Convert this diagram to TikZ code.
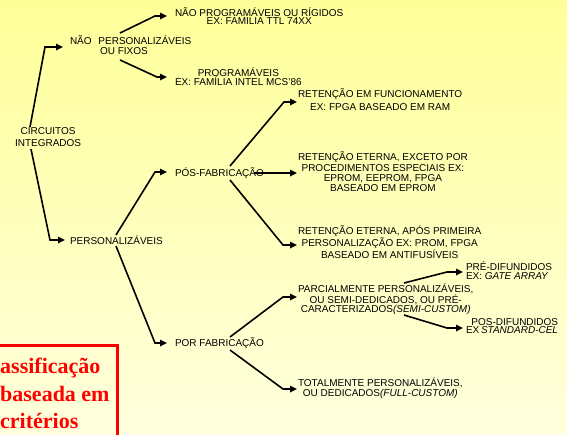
\documentclass[tikz,border=0pt]{standalone}
\usepackage{fontspec}
\setmainfont{Liberation Sans}
\newfontfamily\redserif{Liberation Serif}
\usetikzlibrary{arrows.meta}
\definecolor{bgtop}{RGB}{255,255,153}
\definecolor{bgbot}{RGB}{255,255,222}
\newcommand\fsz[1]{\fontsize{10pt}{#1pt}\selectfont}
\begin{document}
\begin{tikzpicture}[x=1pt,y=-1pt,
  lbl/.style={inner sep=0pt, outer sep=0pt, align=center, anchor=west, text=black, font=\fsz{12}},
  conn/.style={draw=black, line width=1.6pt, -{Triangle[length=7pt,width=6.5pt]}},
]
\useasboundingbox (0,0) rectangle (567,434);
\clip (0,0) rectangle (567,434);
\fill[top color=bgtop, bottom color=bgbot] (0,0) rectangle (567,434);

% nodes
\node[lbl, font=\fsz{12}] (ci) at (15,137) {CIRCUITOS\\INTEGRADOS};
\node[lbl, align=left, font=\fsz{10}] (np) at (70,45) {NÃO\hspace{4pt} PERSONALIZÁVEIS\\\hspace*{30pt}OU FIXOS};
\node[lbl, font=\fsz{8.5}] (npr) at (175,16) {NÃO PROGRAMÁVEIS OU RÍGIDOS\\EX: FAMILIA TTL 74XX};
\node[lbl, font=\fsz{9}] (prog) at (175,77) {PROGRAMÁVEIS\\EX: FAMÍLIA INTEL MCS'86};
\node[lbl] (pers) at (70,240) {PERSONALIZÁVEIS};
\node[lbl] (pos) at (175,173) {PÓS-FABRICAÇÃO};
\node[lbl] (por) at (175,343) {POR FABRICAÇÃO};
\node[lbl, font=\fsz{13}] (ret1) at (298,100) {RETENÇÃO EM FUNCIONAMENTO\\EX: FPGA BASEADO EM RAM};
\node[lbl, font=\fsz{10.3}] (ret2) at (298,172) {RETENÇÃO ETERNA, EXCETO POR\\PROCEDIMENTOS ESPECIAIS EX:\\EPROM, EEPROM, FPGA\\BASEADO EM EPROM};
\node[lbl, font=\fsz{10}] (ret3) at (298,242) {RETENÇÃO ETERNA, APÓS PRIMEIRA\\PERSONALIZAÇÃO EX: PROM, FPGA\\BASEADO EM ANTIFUSÍVEIS};
\node[lbl, font=\fsz{8.7}] (parc) at (298,299) {PARCIALMENTE PERSONALIZÁVEIS,\\OU SEMI-DEDICADOS, OU PRÉ-\\CARACTERIZADOS\textit{(SEMI-CUSTOM)}};
\node[lbl, font=\fsz{10}] (tot) at (298,388) {TOTALMENTE PERSONALIZÁVEIS,\\OU DEDICADOS\textit{(FULL-CUSTOM)}};
\node[lbl, align=left, font=\fsz{9}] (pre) at (466,271) {PRÉ-DIFUNDIDOS\\EX: \textit{GATE ARRAY}};
\begin{scope}
\clip (0,0) rectangle (557,434);
\node[lbl, font=\fsz{8.8}] (posd) at (466,326) {POS-DIFUNDIDOS\\EX\,\textit{STANDARD-CELL}};
\end{scope}

% connector coordinates
\coordinate (ciA) at (30,127);
\coordinate (ciB) at (31,149);
\coordinate (c1) at (45,47);
\coordinate (c2) at (50,240);
\coordinate (npA) at (120,33);
\coordinate (npB) at (120,60);
\coordinate (c3) at (155,16);
\coordinate (c4) at (157,77);
\coordinate (persA) at (116,235);
\coordinate (persB) at (116,246);
\coordinate (c5) at (155,172);
\coordinate (c6) at (155,343);
\coordinate (posA) at (230,166);
\coordinate (posB) at (230,180);
\coordinate (c7) at (284,102);
\coordinate (c9) at (283,245);
\coordinate (porA) at (230,337);
\coordinate (porB) at (230,350);
\coordinate (c10) at (283,297);
\coordinate (c11) at (283,389);
\coordinate (parcA) at (404,283);
\coordinate (parcB) at (404,315);
\coordinate (c12) at (447,272);
\coordinate (c13) at (447,328);

% connectors
\draw[conn, shorten >=7pt] (ciA) -- (c1) -- (c1 -| np.west);
\draw[conn, shorten >=5pt] (ciB) -- (c2) -- (c2 -| pers.west);
\draw[conn, shorten >=8pt] (npA) -- (c3) -- (c3 -| npr.west);
\draw[conn, shorten >=8pt] (npB) -- (c4) -- (c4 -| prog.west);
\draw[conn, shorten >=8pt] (persA) -- (c5) -- (c5 -| pos.west);
\draw[conn, shorten >=8pt] (persB) -- (c6) -- (c6 -| por.west);
\draw[conn, shorten >=1pt] (posA) -- (c7) -- (c7 -| ret1.west);
\draw[conn, shorten >=1pt, shorten <=-10pt] (pos.east) -- (pos.east -| ret2.west);
\draw[conn, shorten >=1pt] (posB) -- (c9) -- (c9 -| ret3.west);
\draw[conn, shorten >=1pt] (porA) -- (c10) -- (c10 -| parc.west);
\draw[conn, shorten >=1pt] (porB) -- (c11) -- (c11 -| tot.west);
\draw[conn, shorten >=3pt] (parcA) -- (c12) -- (c12 -| pre.west);
\draw[conn, shorten >=3pt] (parcB) -- (c13) -- (c13 -| posd.west);

% red box
\draw[red, line width=3pt] (-20,345) -- (117.5,345) -- (117.5,450);
\node[anchor=north west, inner sep=0pt, align=left, text=red,
  font=\redserif\bfseries\fontsize{22pt}{27.5pt}\selectfont] (cls) at (-22,358)
  {Classificação\\\hspace*{22pt}baseada em\\\hspace*{22pt}critérios};
\end{tikzpicture}
\end{document}
